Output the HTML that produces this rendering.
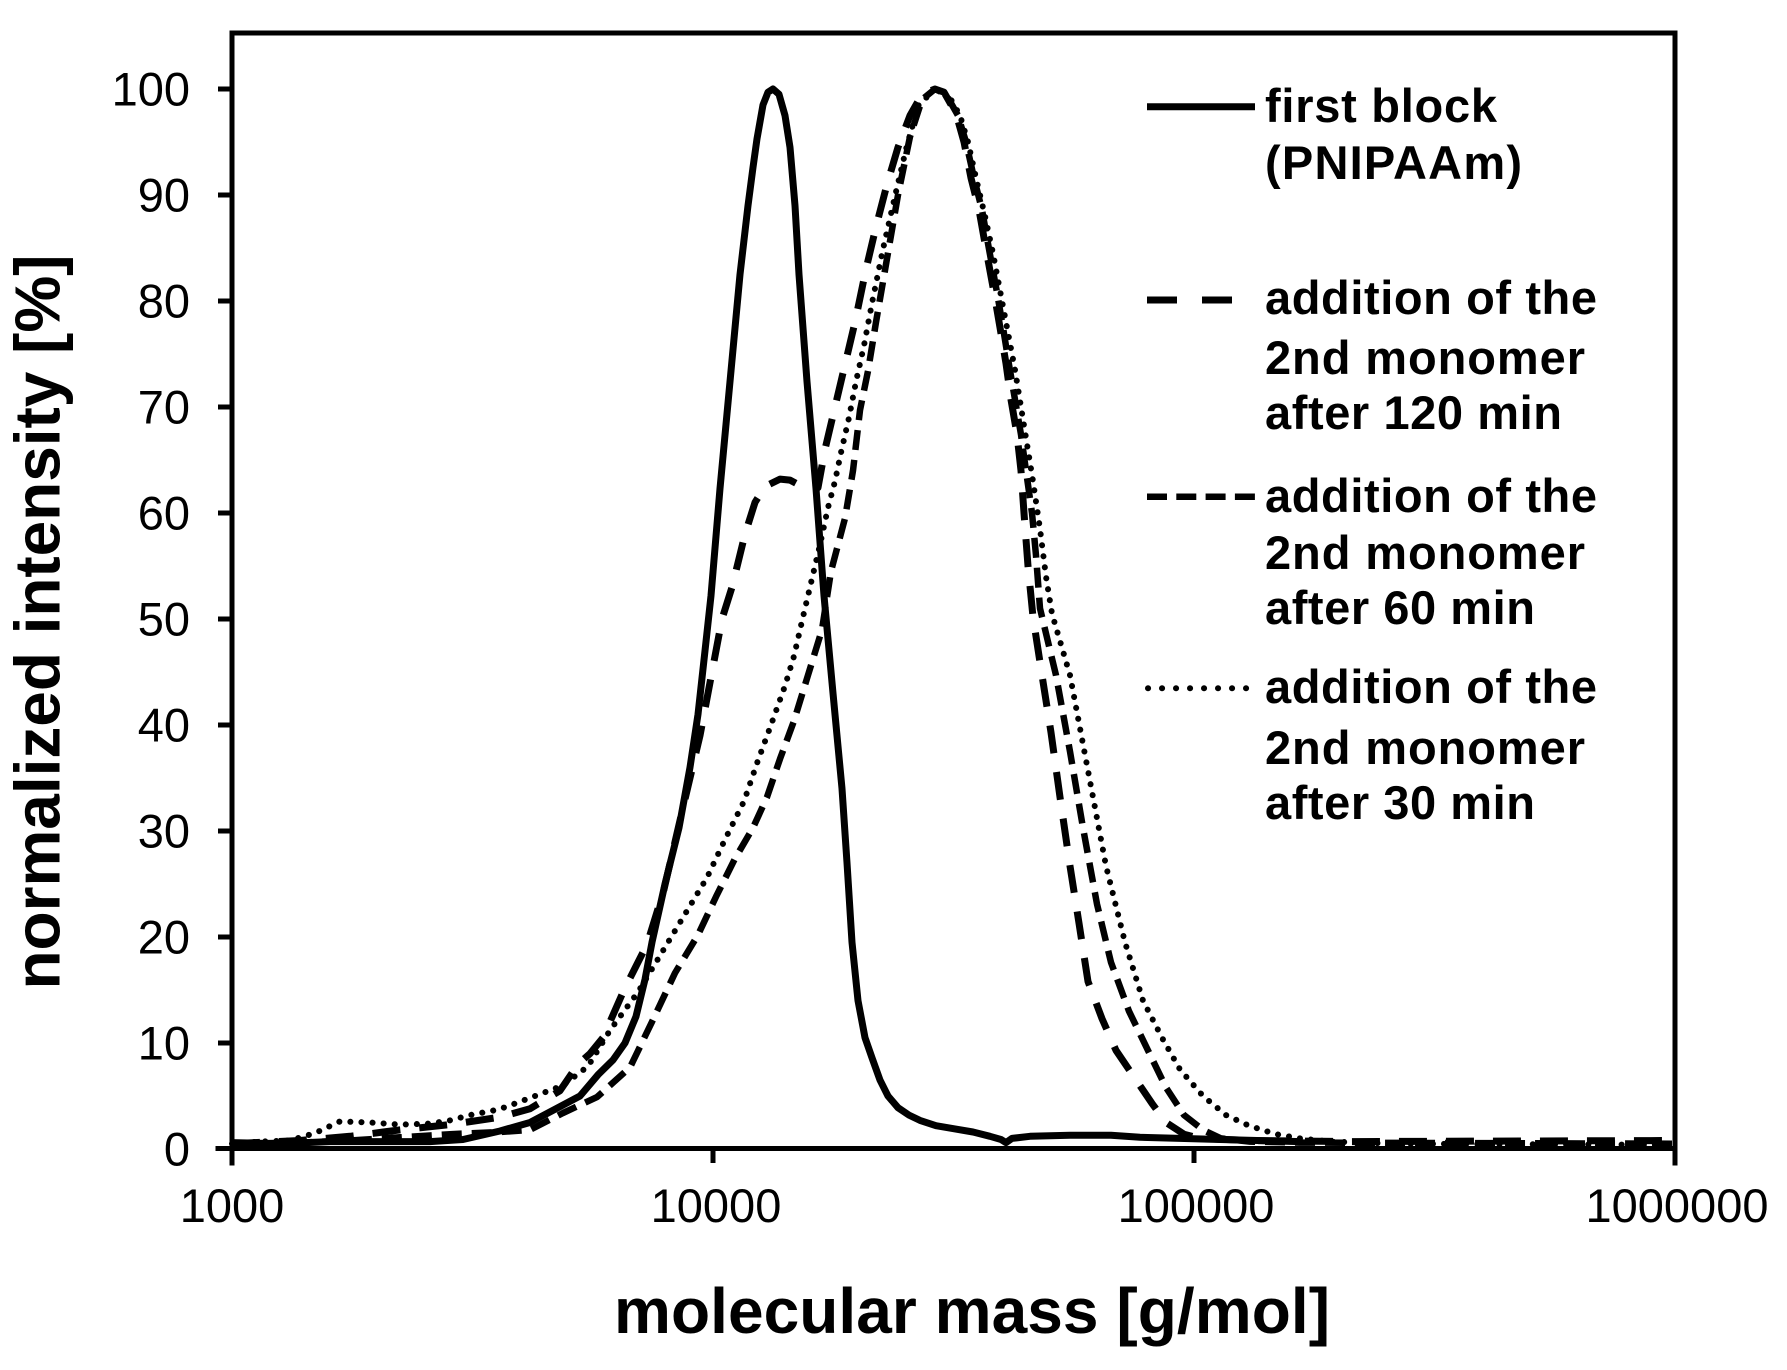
<!DOCTYPE html>
<html>
<head>
<meta charset="utf-8">
<style>
  html, body { margin: 0; padding: 0; background: #ffffff; }
  body { width: 1787px; height: 1370px; overflow: hidden; }
  svg { display: block; }
  text { font-family: "Liberation Sans", Arial, sans-serif; fill: #000; }
  .tick { font-size: 47px; }
  .lab { font-size: 64px; font-weight: bold; }
  .leg { font-size: 47px; font-weight: bold; }
</style>
</head>
<body>
<svg width="1787" height="1370" viewBox="0 0 1787 1370" xmlns="http://www.w3.org/2000/svg">
  <rect x="0" y="0" width="1787" height="1370" fill="#ffffff"/>

  <!-- Curves -->
  <g fill="none" stroke="#000" stroke-linejoin="round">
    <!-- dotted: 30 min -->
    <polyline stroke-width="6" stroke-linecap="round" stroke-dasharray="0.1 11"
      points="232,1143.7 260,1141.6 290,1140.5 315,1133.1 340,1121.4 370,1122.5 400,1124.6 430,1123.6 450,1120.4 470,1115.1 497,1109.8 507,1106.6 535,1096 563,1085.4 588,1066.3 610,1030.3 638,992.1 661,954 684,915.8 707,877.6 725,839.5 744,801.3 757,763.2 771,725 785,685.8 794,656.1 803,616.9 812,578.7 820,544.8 828,507.7 835,481.2 841,452.6 849,417.6 856,381.6 864,345.5 872,303.1 883,249.1 895,196.1 906,149.4 918,106 935,89 948,94.3 960,115.5 968,142 976,178 985,216.2 993,253.3 1001,295.7 1008,332.8 1015,369.9 1021,407 1027,444.1 1033,481.2 1040,528.9 1046,576.6 1052,613.7 1070,675.2 1088,770.6 1106,866 1125,942.3 1143,1000.6 1162,1037.7 1180,1069.5 1203,1096 1226,1115.1 1249,1125.7 1276,1134.2 1300,1138.4 1330,1141.6 1400,1143.7 1672,1144.8"/>
    <!-- medium dash: 60 min -->
    <polyline stroke-width="6.5" stroke-dasharray="20 10"
      points="232,1143.7 300,1142.6 350,1140.5 400,1137.3 450,1134.2 500,1132 530,1129.9 563,1113 597,1097.1 630,1067.4 652,1021.8 675,973 698,934.9 716,896.7 735,858.6 753,827.8 767,797.1 780,758.9 794,720.8 808,675.2 822,629.6 831,571.3 838,544.8 845,518.3 853,470.6 860,410.2 868,371 876,322.2 887,258.6 898,195 910,136.7 922,99.6 935,89 946,94.3 958,115.5 966,142 974,178 982,209.8 989,249.1 997,292.5 1003,327.5 1009,364.6 1015,399.6 1021,434.6 1026,470.6 1032,513 1036,555.4 1040,608.4 1056,675.2 1070,751.5 1083,827.8 1097,904.1 1111,962.4 1129,1011.2 1148,1050.4 1166,1087.5 1184,1115.1 1203,1129.9 1221,1138.4 1250,1141.6 1300,1142.6 1672,1143.7"/>
    <!-- long dash: 120 min -->
    <polyline stroke-width="7" stroke-dasharray="28 19"
      points="232,1143.7 300,1140.5 350,1136.3 400,1129.9 450,1124.6 500,1117.2 530,1108.7 560,1090.7 578,1064.2 590,1053.6 603,1037.7 624,990 647,944.4 664,889.3 680,820.4 700,735.6 712,672 722,619 732,587.2 745,534.2 755,502.4 765,486.5 780,479.1 790,480.1 800,485.4 810,489.7 818,487.6 825,449.4 835,407 845,364.6 855,322.2 866,269.2 876,226.8 887,184.4 898,147.3 910,115.5 922,94.3 935,89 944,92.2 956,113.4 964,142 971,178 979,209.8 986,249.1 994,292.5 1000,327.5 1006,363.5 1011,399.6 1017,434.6 1021,470.6 1024,513 1028,566 1033,616.9 1042,675.2 1051,732.4 1060,797.1 1070,866 1079,923.2 1088,981.5 1102,1018.6 1116,1050.4 1134,1076.9 1152,1103.4 1166,1122.5 1184,1134.2 1200,1138.4 1250,1140.5 1350,1141.6 1672,1140.5"/>
    <!-- solid: first block -->
    <polyline stroke-width="7"
      points="232,1142.6 280,1143.7 330,1141.6 380,1141.6 430,1141.6 463,1139.5 500,1131 530,1122.5 560,1106.6 580,1096 598,1074.8 613,1060 625,1043 636,1016.5 645,979.4 652,942.3 665,884 679,827.8 690,767.4 698,714.4 705,650.8 711,595.7 720,488.6 730,381.6 740,274.5 748,205.6 753,167.4 757,138.8 763,104.9 768,92.2 773,89 779,94.3 785,115.5 790,147.3 795,205.6 799,274.5 807,381.6 816,488.6 824,595.7 833,693.2 842,788.6 847,862.8 852,942.3 858,1000.6 865,1037.7 872,1057.8 880,1080.1 888,1096 898,1107.7 909,1115.1 920,1120.4 936,1125.7 955,1128.9 973,1132 990,1136.3 1001,1139.5 1006,1142.6 1012,1138.4 1030,1136.3 1070,1135.2 1111,1135.2 1140,1137.3 1180,1138.4 1220,1139.5 1300,1141.6"/>
  </g>

  <!-- Axes frame -->
  <g stroke="#000" stroke-width="5" fill="none" stroke-linecap="square">
    <line x1="232" y1="33" x2="1675" y2="33"/>
    <line x1="232" y1="33" x2="232" y2="1163"/>
    <line x1="1675" y1="33" x2="1675" y2="1163"/>
    <line x1="218" y1="1148.5" x2="1675" y2="1148.5"/>
  </g>
  <!-- Ticks -->
  <g stroke="#000" stroke-width="5">
    <line x1="218" y1="1043" x2="232" y2="1043"/>
    <line x1="218" y1="937" x2="232" y2="937"/>
    <line x1="218" y1="831" x2="232" y2="831"/>
    <line x1="218" y1="725" x2="232" y2="725"/>
    <line x1="218" y1="619" x2="232" y2="619"/>
    <line x1="218" y1="513" x2="232" y2="513"/>
    <line x1="218" y1="407" x2="232" y2="407"/>
    <line x1="218" y1="301" x2="232" y2="301"/>
    <line x1="218" y1="195" x2="232" y2="195"/>
    <line x1="218" y1="89" x2="232" y2="89"/>
    <line x1="713" y1="1148" x2="713" y2="1163"/>
    <line x1="1194" y1="1148" x2="1194" y2="1163"/>
  </g>

  <!-- Y tick labels -->
  <g class="tick" text-anchor="end">
    <text x="190" y="1165.5">0</text>
    <text x="190" y="1059.5">10</text>
    <text x="190" y="953.5">20</text>
    <text x="190" y="847.5">30</text>
    <text x="190" y="741.5">40</text>
    <text x="190" y="635.5">50</text>
    <text x="190" y="529.5">60</text>
    <text x="190" y="423.5">70</text>
    <text x="190" y="317.5">80</text>
    <text x="190" y="211.5">90</text>
    <text x="190" y="105.5">100</text>
  </g>

  <!-- X tick labels -->
  <g class="tick" text-anchor="middle">
    <text x="232" y="1222">1000</text>
    <text x="716" y="1222">10000</text>
    <text x="1196" y="1222">100000</text>
    <text x="1677" y="1222">1000000</text>
  </g>

  <!-- Axis titles -->
  <text class="lab" x="972" y="1333" text-anchor="middle" textLength="716">molecular mass [g/mol]</text>
  <text class="lab" transform="translate(59.5,622) rotate(-90)" x="0" y="0" text-anchor="middle" textLength="735">normalized intensity [%]</text>

  <!-- Legend -->
  <g stroke="#000" fill="none">
    <line x1="1147" y1="106.7" x2="1255" y2="106.7" stroke-width="7"/>
    <line x1="1147" y1="300" x2="1177" y2="300" stroke-width="7"/>
    <line x1="1202" y1="300" x2="1232" y2="300" stroke-width="7"/>
    <line x1="1147" y1="496.7" x2="1255" y2="496.7" stroke-width="6.5" stroke-dasharray="20 9.3"/>
    <line x1="1148" y1="688.3" x2="1250" y2="688.3" stroke-width="6" stroke-linecap="round" stroke-dasharray="0.1 13.9"/>
  </g>
  <g class="leg">
    <text x="1265" y="122" textLength="232">first block</text>
    <text x="1265" y="179" textLength="257">(PNIPAAm)</text>
    <text x="1265" y="314" textLength="332">addition of the</text>
    <text x="1265" y="374" textLength="320">2nd monomer</text>
    <text x="1265" y="429" textLength="297">after 120 min</text>
    <text x="1265" y="512" textLength="332">addition of the</text>
    <text x="1265" y="569" textLength="320">2nd monomer</text>
    <text x="1265" y="624" textLength="270">after 60 min</text>
    <text x="1265" y="703" textLength="332">addition of the</text>
    <text x="1265" y="764" textLength="320">2nd monomer</text>
    <text x="1265" y="819" textLength="270">after 30 min</text>
  </g>
</svg>
</body>
</html>
